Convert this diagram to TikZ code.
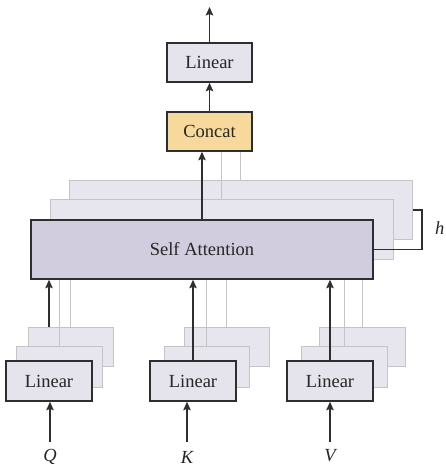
\documentclass[tikz,border=0pt]{standalone}
\usepackage{fontspec}
\setmainfont{Liberation Serif}
\usetikzlibrary{arrows.meta}
\definecolor{linfill}{HTML}{E5E3EB}
\definecolor{safill}{HTML}{D1CDDF}
\definecolor{ghostfill}{HTML}{E7E5ED}
\definecolor{ghostline}{HTML}{C4C4C6}
\definecolor{catfill}{HTML}{F7DA9B}
\definecolor{darkln}{HTML}{2E2E2E}
\tikzset{
  box/.style={draw=darkln, line width=1.5pt, fill=linfill, inner sep=0pt,
    font=\fontsize{18.5}{20}\selectfont, text=black!85},
  ghost/.style={draw=ghostline, line width=1pt, fill=ghostfill, inner sep=0pt},
  arr/.style={draw=darkln, line width=1.5pt, -{Stealth[length=8.5pt,width=7.5pt,inset=1.5pt]}},
  ghostln/.style={draw=ghostline, line width=1pt},
  lbl/.style={inner sep=0pt, font=\fontsize{18.5}{20}\selectfont\itshape, text=black!85, anchor=base}
}
\begin{document}
\begin{tikzpicture}[x=1pt,y=-1pt]
\useasboundingbox (0,0) rectangle (445,468);
\fill[white] (0,0) rectangle (445,468);

% top part
\node[box, minimum width=85pt, minimum height=39pt] (lin) at (209.5,62.5) {Linear};
\node[box, fill=catfill, minimum width=85pt, minimum height=39pt] (cat) at (209.5,131.5) {Concat};
\coordinate (out) at (209.5,7);
\draw[arr] (lin.north) -- (out);
\draw[arr] (cat.north) -- (lin.south);

% self attention stack
\node[ghost, minimum width=343pt, minimum height=59pt] (sa3) at (240.5,210) {};
\draw[ghostln] (sa3.north) -- (sa3.north |- cat.south);
\node[ghost, minimum width=343pt, minimum height=60pt] (sa2) at (221.5,229) {};
\draw[ghostln] (sa2.north) -- (sa2.north |- cat.south);
\node[box, fill=safill, minimum width=342pt, minimum height=59pt] (sa) at (202,249.5) {Self Attention};
\draw[arr] (sa.north) -- (sa.north |- cat.south);

% h bracket
\coordinate (hc) at (422,249.5);
\draw[draw=darkln, line width=1.5pt] (sa.east) -- (hc) |- (sa3.east);
\node[inner sep=0pt, anchor=west, font=\fontsize{18.5}{20}\selectfont\itshape, text=black!85] (h) at (435,228) {h};

% Q branch
\coordinate (qin) at (50,442);
\node[lbl] (q) at (50,461) {Q};
\node[box, draw=none, fill=none, minimum width=86pt, minimum height=40pt] (qf0) at (49,381) {};
\draw[arr] (qf0.north) -- (qf0.north |- sa.south);
\node[ghost, minimum width=85pt, minimum height=39pt] (q3) at (70.5,347) {};
\draw[ghostln] (q3.north) -- (q3.north |- sa.south);
\node[ghost, minimum width=86pt, minimum height=41pt] (q2) at (59,366.5) {};
\draw[ghostln] (q2.north) -- (q2.north |- sa.south);
\node[box, minimum width=86pt, minimum height=40pt] (qf) at (49,381) {Linear};
\draw[arr] (qin) -- (qin |- qf.south);

% K branch
\coordinate (kin) at (187,442);
\node[lbl] (k) at (187,463) {K};
\node[ghost, minimum width=85pt, minimum height=39pt] (k3) at (226.5,347) {};
\draw[ghostln] (k3.north) -- (k3.north |- sa.south);
\node[ghost, minimum width=85pt, minimum height=41pt] (k2) at (206.5,366.5) {};
\draw[ghostln] (k2.north) -- (k2.north |- sa.south);
\node[box, minimum width=86pt, minimum height=40pt] (kf) at (193,381) {Linear};
\draw[arr] (kf.north) -- (kf.north |- sa.south);
\draw[arr] (kin) -- (kin |- kf.south);

% V branch
\coordinate (vin) at (330,442);
\node[lbl] (v) at (330,461) {V};
\node[ghost, minimum width=86pt, minimum height=39pt] (v3) at (362,347) {};
\draw[ghostln] (v3.north) -- (v3.north |- sa.south);
\node[ghost, minimum width=86pt, minimum height=41pt] (v2) at (344,366.5) {};
\draw[ghostln] (v2.north) -- (v2.north |- sa.south);
\node[box, minimum width=86pt, minimum height=40pt] (vf) at (330,381) {Linear};
\draw[arr] (vf.north) -- (vf.north |- sa.south);
\draw[arr] (vin) -- (vin |- vf.south);
\end{tikzpicture}
\end{document}
